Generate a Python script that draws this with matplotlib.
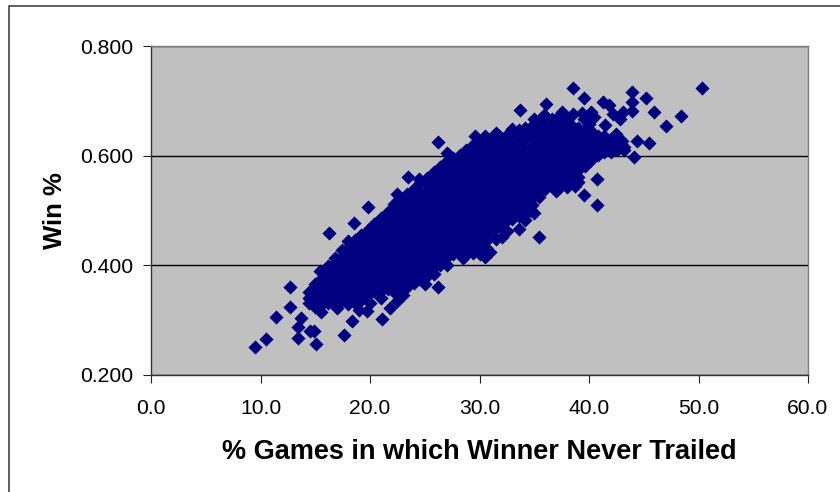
import matplotlib
matplotlib.use("Agg")
import matplotlib.pyplot as plt
from matplotlib.patches import Rectangle

W, H = 840, 492

# Isolated points
outlier_x = [9.5,10.5,11.4,12.7,12.7,13.4,13.4,13.7,15.05,14.9,14.5,17.6,18.4,21.1,19.7,21.8,26.2,26.2,15.4,16.3,18.55,19.8,
             50.3,38.5,39.5,33.7,36.1,43.9,45.2,45.9,48.4,47.0,43.9,43.9,41.3,41.8,43.1,42.8,44.4,45.5,44.1,40.7,40.7,39.5,35.4,33.6,32.1,29.6,40.2,39.4,35.9,38.7,37.2]
outlier_y = [.251,.266,.306,.324,.361,.268,.288,.304,.257,.281,.281,.273,.299,.302,.317,.323,.361,.625,.390,.459,.478,.507,
             .723,.723,.705,.683,.695,.716,.705,.679,.672,.654,.697,.682,.698,.692,.680,.666,.626,.624,.598,.557,.510,.529,.452,.467,.452,.636,.680,.677,.674,.545,.540]

# Points along the rough edge of the dense band
edge_x = [22.5,23.0,27.0,30.5,31.0,31.5,35.0,37.0,38.0,39.0,32.5,22.5,23.5,24.5,27.0,30.5,31.5,33.0,35.0,36.0,37.5,38.5,40.0,41.5,42.5,43.0,39.5,40.5,42.2,15.5,17.0,19.0,20.0,21.0,25.0,28.5,34.2]
edge_y = [.335,.345,.400,.415,.425,.448,.495,.535,.542,.552,.462,.530,.562,.558,.604,.636,.642,.648,.666,.672,.680,.676,.657,.656,.640,.626,.667,.671,.676,.314,.322,.318,.332,.340,.366,.414,.482]

# Dense band, one list of win % per x position
band_x = [14.4,15.0,15.6,16.2,16.8,17.4,18.0,18.6,19.2,19.8,20.4,21.0,21.6,22.2,22.8,23.4,24.0,24.6,25.2,25.8,26.4,27.0,27.6,28.2,28.8,
          29.4,30.0,30.6,31.2,31.8,32.4,33.0,33.6,34.2,34.8,35.4,36.0,36.6,37.2,37.8,38.4,39.0,39.6,40.2,40.8,41.4,42.0,42.6,43.2]
band_y = [
 [.332,.351],
 [.324,.345,.366],
 [.330,.352,.376],
 [.332,.354,.376,.399],
 [.330,.352,.374,.396,.414],
 [.336,.358,.380,.402,.428],
 [.330,.352,.374,.396,.418,.444],
 [.332,.356,.378,.400,.422,.446],
 [.336,.358,.382,.406,.430,.455],
 [.346,.368,.392,.416,.440,.465],
 [.354,.378,.402,.426,.450,.476],
 [.354,.378,.402,.426,.450,.474,.486],
 [.356,.380,.404,.428,.452,.476,.498],
 [.352,.376,.400,.424,.448,.472,.496,.511],
 [.350,.374,.398,.422,.446,.470,.494,.520],
 [.360,.384,.408,.432,.456,.480,.504,.530],
 [.368,.392,.416,.440,.464,.488,.512,.540],
 [.375,.399,.423,.447,.471,.495,.519,.550],
 [.380,.404,.428,.452,.476,.500,.524,.548,.560],
 [.385,.409,.433,.457,.481,.505,.529,.553,.570],
 [.400,.424,.448,.472,.496,.520,.544,.568,.580],
 [.415,.439,.463,.487,.511,.535,.559,.590],
 [.420,.444,.468,.492,.516,.540,.564,.588,.596],
 [.424,.448,.472,.496,.520,.544,.568,.601],
 [.420,.444,.468,.492,.516,.540,.564,.588,.610],
 [.422,.446,.470,.494,.518,.542,.566,.590,.620],
 [.420,.444,.468,.492,.516,.540,.564,.588,.612,.625],
 [.432,.456,.480,.504,.528,.552,.576,.600,.626],
 [.462,.486,.510,.534,.558,.582,.606,.630],
 [.472,.496,.520,.544,.568,.592,.616,.635],
 [.480,.504,.528,.552,.576,.600,.624,.636],
 [.485,.509,.533,.557,.581,.605,.640],
 [.490,.514,.538,.562,.586,.610,.634,.646],
 [.492,.516,.540,.564,.588,.612,.650],
 [.510,.534,.558,.582,.606,.630,.655],
 [.525,.549,.573,.597,.621,.645,.660],
 [.540,.564,.588,.612,.636,.666],
 [.546,.570,.594,.618,.642,.666],
 [.546,.570,.594,.618,.646,.670],
 [.552,.576,.600,.624,.648,.666],
 [.556,.580,.604,.628,.656],
 [.562,.586,.610,.634,.650],
 [.582,.606,.626,.646],
 [.592,.616,.645],
 [.602,.620,.636],
 [.606,.622,.635],
 [.606,.630],
 [.610,.620],
 [.610],
]
# Further points of the same band, between those above
band2_y = [
 [.341],
 [.335,.356],
 [.341,.364],
 [.343,.365,.388],
 [.341,.363,.385,.405],
 [.347,.369,.391,.415],
 [.341,.363,.385,.407,.431],
 [.344,.367,.389,.411,.434],
 [.347,.370,.394,.418,.442],
 [.357,.380,.404,.428,.452],
 [.366,.390,.414,.438,.463],
 [.366,.390,.414,.438,.462],
 [.368,.392,.416,.440,.464,.487],
 [.364,.388,.412,.436,.460,.484,.504],
 [.362,.386,.410,.434,.458,.482,.507],
 [.372,.396,.420,.444,.468,.492,.517],
 [.380,.404,.428,.452,.476,.500,.526],
 [.387,.411,.435,.459,.483,.507,.534],
 [.392,.416,.440,.464,.488,.512,.536,.554],
 [.397,.421,.445,.469,.493,.517,.541,.562],
 [.412,.436,.460,.484,.508,.532,.556,.574],
 [.427,.451,.475,.499,.523,.547,.574],
 [.432,.456,.480,.504,.528,.552,.576,.592],
 [.436,.460,.484,.508,.532,.556,.584],
 [.432,.456,.480,.504,.528,.552,.576,.599],
 [.434,.458,.482,.506,.530,.554,.578,.605],
 [.432,.456,.480,.504,.528,.552,.576,.600,.618],
 [.444,.468,.492,.516,.540,.564,.588,.613],
 [.474,.498,.522,.546,.570,.594,.618],
 [.484,.508,.532,.556,.580,.604,.625],
 [.492,.516,.540,.564,.588,.612,.630],
 [.497,.521,.545,.569,.593,.622],
 [.502,.526,.550,.574,.598,.622,.640],
 [.504,.528,.552,.576,.600,.631],
 [.522,.546,.570,.594,.618,.642],
 [.537,.561,.585,.609,.633,.652],
 [.552,.576,.600,.624,.651],
 [.558,.582,.606,.630,.654],
 [.558,.582,.606,.632,.658],
 [.564,.588,.612,.636,.657],
 [.568,.592,.616,.642],
 [.574,.598,.622,.642],
 [.594,.616,.636],
 [.604,.630],
 [.611,.628],
 [.614,.628],
 [.618],
 [.615],
 [.615],
]

x_ticks = [0, 10, 20, 30, 40, 50, 60]
x_labels = ["0.0", "10.0", "20.0", "30.0", "40.0", "50.0", "60.0"]
y_ticks = [0.2, 0.4, 0.6, 0.8]
y_labels = ["0.200", "0.400", "0.600", "0.800"]

plt.rcParams['font.family'] = ['Liberation Sans', 'DejaVu Sans']

fig = plt.figure(figsize=(W / 100, H / 100), dpi=100)
fig.add_artist(Rectangle((9 / W, 1 - 502 / H), 845 / W, 496.5 / H, transform=fig.transFigure,
                         fill=False, edgecolor="#333333", linewidth=1.1))

ax = fig.add_axes([151 / W, 1 - 375 / H, 657 / W, 329 / H])
ax.set_facecolor("#C0C0C0")
ax.set_xlim(0, 60)
ax.set_ylim(0.2, 0.8)
ax.set_xticks(x_ticks, x_labels)
ax.set_yticks(y_ticks, y_labels)
ax.tick_params(labelsize=15.2, length=5.5, width=0.8, color="#222222")
ax.tick_params(axis="x", pad=12)
ax.tick_params(axis="y", pad=7)
ax.grid(axis="y", color="black", linewidth=1.0)
ax.set_axisbelow(True)
for side, col in (("left", "#333333"), ("bottom", "#333333"), ("top", "#808080"), ("right", "#808080")):
    ax.spines[side].set_color(col)
    ax.spines[side].set_linewidth(1.0)

xs = list(outlier_x) + list(edge_x)
ys = list(outlier_y) + list(edge_y)
for x, col1, col2 in zip(band_x, band_y, band2_y):
    xs.extend([x] * (len(col1) + len(col2)))
    ys.extend(col1 + col2)
ax.scatter(xs, ys, marker="D", s=52, color="#000080", linewidths=0, clip_on=False, zorder=3)

fig.text(479 / W, 1 - 452 / H, "% Games in which Winner Never Trailed", fontsize=19.5, fontweight="bold",
         ha="center", va="center")
fig.text(54.5 / W, 1 - 211 / H, "Win %", fontsize=18.5, fontweight="bold", rotation=90, ha="center", va="center")

fig.savefig("out.png", dpi=100)
